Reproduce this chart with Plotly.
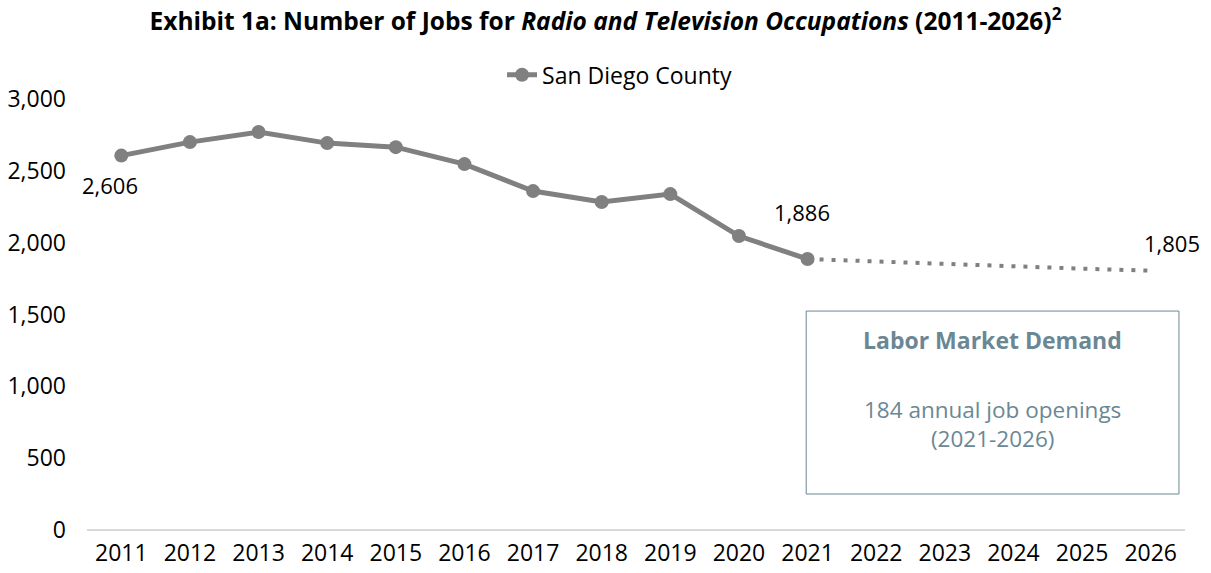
import plotly.graph_objects as go

years_actual = [2011, 2012, 2013, 2014, 2015, 2016, 2017, 2018, 2019, 2020, 2021]
jobs_actual = [2606, 2700, 2770, 2693, 2665, 2547, 2359, 2283, 2338, 2046, 1886]
years_proj = [2021, 2022, 2023, 2024, 2025, 2026]
jobs_proj = [1886, 1868, 1851, 1834, 1819, 1805]
all_years = list(range(2011, 2027))
y_ticks = [0, 500, 1000, 1500, 2000, 2500, 3000]

FONT = "'Open Sans', Lato, sans-serif"
GRAY = "#808080"
BOXC = "#6b8794"

fig = go.Figure()
fig.add_trace(go.Scatter(
    x=years_actual, y=jobs_actual, mode="lines+markers", name="San Diego County",
    line=dict(color=GRAY, width=5), marker=dict(color=GRAY, size=14),
))
fig.add_trace(go.Scatter(
    x=years_proj, y=jobs_proj, mode="lines", showlegend=False,
    line=dict(color=GRAY, width=4, dash="4px,8px"),
))

# data labels
lbl_font = dict(size=22, color="black", family=FONT)
fig.add_annotation(x=years_actual[0], y=jobs_actual[0], text=f"{jobs_actual[0]:,}",
                   showarrow=False, xshift=-11, yshift=-29, font=lbl_font)
fig.add_annotation(x=years_actual[-1], y=jobs_actual[-1], text=f"{jobs_actual[-1]:,}",
                   showarrow=False, xshift=-6, yshift=47, font=lbl_font)
fig.add_annotation(x=years_proj[-1], y=jobs_proj[-1], text=f"{jobs_proj[-1]:,}",
                   showarrow=False, xshift=21, yshift=28, font=lbl_font)

# Labor market box
fig.add_shape(type="rect", xref="paper", yref="paper", x0=0.655, x1=0.9945, y0=0.0835, y1=0.508,
              line=dict(color=BOXC, width=1), fillcolor="rgba(0,0,0,0)")
fig.add_annotation(xref="paper", yref="paper", x=0.8248, y=0.441, xanchor="center", yanchor="middle",
                   text="<b>Labor Market Demand</b>",
                   showarrow=False, font=dict(size=23, color=BOXC, family=FONT))
fig.add_annotation(xref="paper", yref="paper", x=0.8248, y=0.246, xanchor="center", yanchor="middle",
                   text="184 annual job openings<br>(2021-2026)", showarrow=False,
                   font=dict(size=22.5, color=BOXC, family=FONT))

fig.update_layout(
    width=1211, height=573,
    margin=dict(l=87, r=26, t=99, b=43, autoexpand=False),
    paper_bgcolor="white", plot_bgcolor="white",
    font=dict(family=FONT, color="black"),
    title=dict(text="<b>Exhibit 1a: Number of Jobs for <i>Radio and Television Occupations</i> (2011-2026)<sup>2</sup></b>",
               x=0.5, xanchor="center", y=0.962, yanchor="middle", font=dict(size=24.5, color="black")),
    legend=dict(orientation="h", x=0.485, xanchor="center", y=1.056, yanchor="middle",
                font=dict(size=23), bgcolor="rgba(0,0,0,0)"),
    showlegend=True,
)
fig.update_xaxes(tickmode="array", tickvals=all_years, ticktext=[str(y) for y in all_years],
                 range=[2010.5, 2026.5], showgrid=False, showline=False, zeroline=False,
                 ticks="", tickfont=dict(size=23), ticklabelstandoff=7, automargin=False)
fig.update_yaxes(range=[0, 3000], tickvals=y_ticks, ticktext=[f"{v:,}" for v in y_ticks],
                 showgrid=False, zeroline=True, zerolinecolor="#d9d9d9", zerolinewidth=2,
                 showline=False, ticks="", tickfont=dict(size=23), ticklabelstandoff=20,
                 automargin=False)

fig.write_html("out.html", config={"displayModeBar": False},
               post_script="document.body.style.margin='0';document.body.style.padding='0';")
